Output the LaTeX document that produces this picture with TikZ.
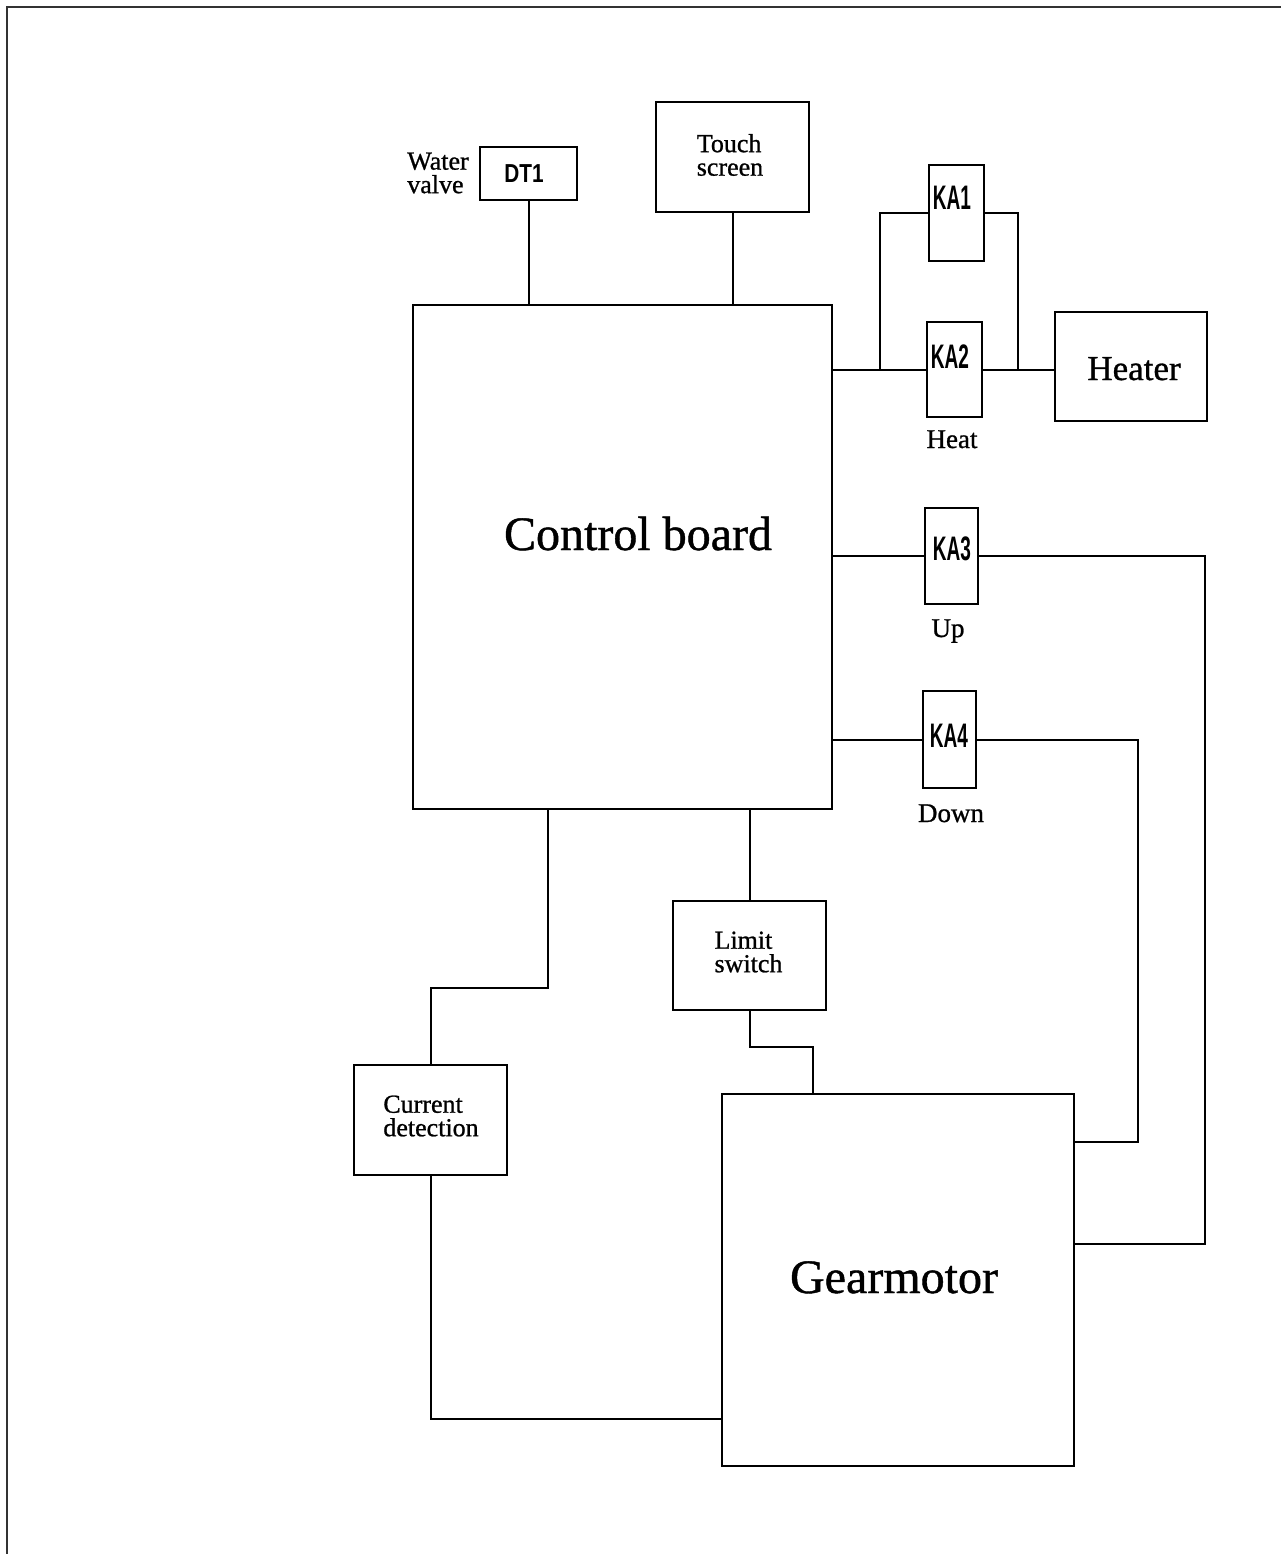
\documentclass[tikz,border=0pt]{standalone}
\usepackage{fontspec}
\setmainfont{Liberation Serif}[FakeBold=1.2]
\newfontfamily\txtfont{Liberation Serif}[FakeBold=0.9]
\newfontfamily\kafont{Liberation Sans}
\usetikzlibrary{calc}
\tikzset{
  box/.style={draw, line width=2pt, inner sep=0pt},
  wire/.style={line width=2pt},
  big/.style={inner sep=0pt, anchor=base, font=\txtfont\fontsize{48}{48}\selectfont},
  mid/.style={inner sep=0pt, anchor=base, font=\txtfont\fontsize{35}{35}\selectfont},
  small/.style={inner sep=0pt, anchor=base, font=\txtfont\fontsize{27}{27}\selectfont},
  two/.style={inner sep=0pt, align=left, font=\txtfont\fontsize{26}{23.5}\selectfont},
  kalbl/.style={inner sep=0pt, anchor=base, font=\kafont\bfseries\fontsize{34}{34}\selectfont},
  dtlbl/.style={inner sep=0pt, anchor=base, font=\kafont\bfseries\fontsize{26}{26}\selectfont},
}
\begin{document}
\begin{tikzpicture}[x=1pt,y=-1pt]
\useasboundingbox (0,0) rectangle (1281,1554);
% frame
\draw[line width=2.5pt, black!80] (1281,7) -- (7,7) -- (7,1554);

% boxes
\node[box, minimum width=419, minimum height=504] (cb) at (622.5,557) {};
\node[box, minimum width=97, minimum height=53] (dt1) at (528.5,173.5) {};
\node[box, minimum width=153, minimum height=110] (ts) at (732.5,157) {};
\node[box, minimum width=55, minimum height=96] (ka1) at (956.5,213) {};
\node[box, minimum width=55, minimum height=95] (ka2) at (954.5,369.5) {};
\node[box, minimum width=152, minimum height=109] (ht) at (1131,366.5) {};
\node[box, minimum width=53, minimum height=96] (ka3) at (951.5,556) {};
\node[box, minimum width=53, minimum height=97] (ka4) at (949.5,739.5) {};
\node[box, minimum width=153, minimum height=109] (ls) at (749.5,955.5) {};
\node[box, minimum width=352, minimum height=372] (gm) at (898,1280) {};
\node[box, minimum width=153, minimum height=110] (cd) at (430.5,1120) {};

% labels
\node[big] (tcb) at (638,550) {Control board};
\node[big] (tgm) at (894,1293) {Gearmotor};
\node[mid] (tht) at (1134,380) {Heater};
\node[small] (theat) at (952,448) {Heat};
\node[small] (tup) at (948,637) {Up};
\node[small] (tdown) at (951,822) {Down};
\node[kalbl] (tka1) at (952,210) {\scalebox{0.56}[1]{KA1}};
\node[kalbl] (tka2) at (950,368) {\scalebox{0.56}[1]{KA2}};
\node[kalbl] (tka3) at (952,560) {\scalebox{0.56}[1]{KA3}};
\node[kalbl] (tka4) at (949,747) {\scalebox{0.56}[1]{KA4}};
\node[dtlbl] (tdt1) at (524,183) {\scalebox{0.8}[1]{DT1}};
\node[two] (twv) at (438,173) {Water\\valve};
\node[two] (tts) at (730,155) {Touch\\screen};
\node[two] (tls) at (748.5,952) {Limit\\switch};
\node[two] (tcd) at (431,1116) {Current\\detection};

% helper coordinates
\coordinate (jl) at (880,369.5);
\coordinate (jr) at (1018,369.5);
\coordinate (r3) at (1205,556);
\coordinate (y3) at (0,1244);
\coordinate (r4) at (1138,739.5);
\coordinate (y4) at (0,1142);
\coordinate (lg) at (813,1047);
\coordinate (cc) at (548,988);
\coordinate (yb) at (0,1419);

% wires
\draw[wire] (dt1.south) -- (dt1.south |- cb.north);
\draw[wire] (ts.south) -- (ts.south |- cb.north);
\draw[wire] (cb.east |- ka2.west) -- (ka2.west);
\draw[wire] (ka2.east) -- (ht.west |- ka2.east);
\draw[wire] (jl) |- (ka1.west);
\draw[wire] (jr) |- (ka1.east);
\draw[wire] (cb.east |- ka3.west) -- (ka3.west);
\draw[wire] (ka3.east) -- (r3) -- (r3 |- y3) -- (gm.east |- y3);
\draw[wire] (cb.east |- ka4.west) -- (ka4.west);
\draw[wire] (ka4.east) -- (r4) -- (r4 |- y4) -- (gm.east |- y4);
\draw[wire] (ls.north) -- (ls.north |- cb.south);
\draw[wire] (ls.south) |- (lg) -- (lg |- gm.north);
\draw[wire] (cc |- cb.south) -- (cc) -| (cd.north);
\draw[wire] (cd.south) |- (gm.west |- yb);
\end{tikzpicture}
\end{document}
